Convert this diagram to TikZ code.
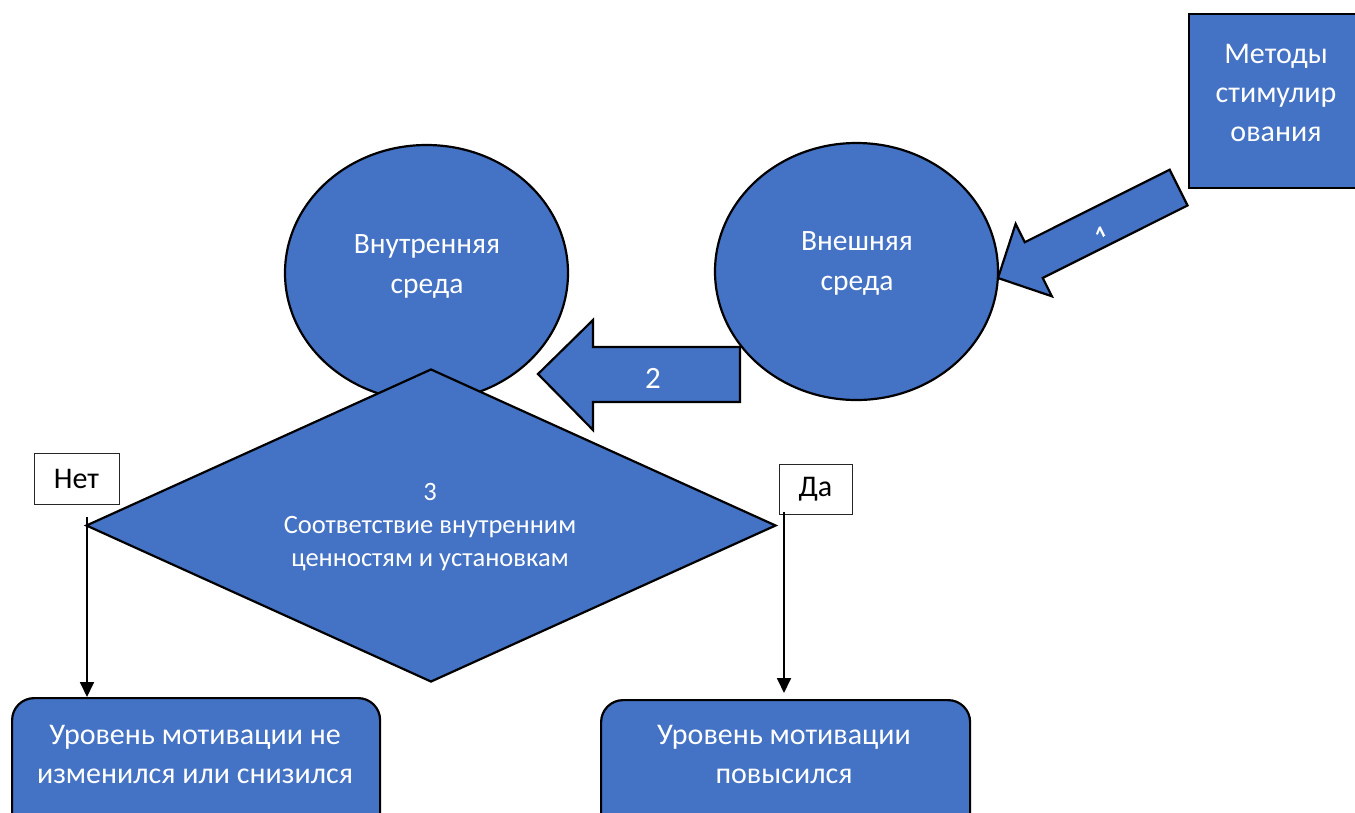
\documentclass[tikz,border=0pt]{standalone}
\usepackage{fontspec}
\setmainfont{Carlito}
\usetikzlibrary{shapes.geometric,arrows.meta}
\definecolor{fillblue}{HTML}{4472C4}
\begin{document}
\begin{tikzpicture}[x=1pt,y=-1pt,
  shapebox/.style={draw=black,line width=2.2pt,fill=fillblue},
  wtext/.style={text=white,align=center,inner sep=0pt},
  lbl/.style={draw=black!85,line width=1pt,fill=white,inner sep=0pt,text=black},
  conn/.style={draw=black,line width=1.8pt,-{Triangle[width=14pt,length=15pt]}}]
\useasboundingbox (0,0) rectangle (1355,812);
\clip (0,0) rectangle (1355,812);

% Methods box
\node[shapebox,rectangle,anchor=north west,minimum width=176,minimum height=174,inner sep=0] (met) at (1188,13) {};
\node[wtext,font=\fontsize{30}{39}\selectfont] (mettxt) at (1276,93) {Методы\\стимулир\\ования};

% Block arrow 1
\begin{scope}[shift={(998,278)},rotate=26.6]
  \draw[shapebox] (0,0) -- (40,-40.5) -- (40,-20) -- (202,-20) -- (202,20) -- (40,20) -- (40,40.5) -- cycle;
  \begin{scope}
    \clip (98,-3) rectangle (128,9.5);
    \node[transform shape,text=white,inner sep=0,anchor=north,font=\fontsize{30}{30}\selectfont] (one) at (112.7,0) {1};
  \end{scope}
\end{scope}

% Ellipses
\node[shapebox,ellipse,minimum width=283,minimum height=257,inner sep=0] (outer) at (856.5,271.5) {};
\node[wtext,font=\fontsize{29.5}{40}\selectfont] (outertxt) at (857,263) {Внешняя\\среда};
\node[shapebox,ellipse,minimum width=283,minimum height=256,inner sep=0] (inner) at (426.5,273) {};
\node[wtext,font=\fontsize{29.5}{40}\selectfont] (innertxt) at (427,266) {Внутренняя\\среда};

% Block arrow 2
\draw[shapebox] (538,374) -- (593,320) -- (593,347) -- (740,347) -- (740,402) -- (593,402) -- (593,430) -- cycle;
\node[wtext,font=\fontsize{31}{31}\selectfont] (two) at (653,378) {2};

% Decision diamond
\node[shapebox,diamond,minimum width=690,minimum height=313,inner sep=0] (dec) at (431,525.5) {};
\node[wtext,font=\fontsize{26.5}{33}\selectfont] (dectxt) at (430,527) {3\\Соответствие внутренним\\ценностям и установкам};

% Labels
\node[lbl,minimum width=85,minimum height=51,font=\fontsize{30}{30}\selectfont] (net) at (76.5,478.5) {Нет};
\node[lbl,minimum width=73,minimum height=50,font=\fontsize{30}{30}\selectfont] (da) at (815.5,489) {Да};

% Result boxes
\node[shapebox,rounded corners=22,anchor=north west,minimum width=368,minimum height=140,inner sep=0] (no) at (11,697) {};
\node[wtext,font=\fontsize{30}{39}\selectfont] (notxt) at (195,754) {Уровень мотивации не\\изменился или снизился};
\node[shapebox,rounded corners=22,anchor=north west,minimum width=369,minimum height=140,inner sep=0] (yes) at (600,699) {};
\node[wtext,font=\fontsize{30}{39}\selectfont] (yestxt) at (784,754) {Уровень мотивации\\повысился};

% Connectors
\coordinate (nstart) at (87,517);
\coordinate (ystart) at (784,512);
\draw[conn] (nstart) -- (nstart |- no.north);
\draw[conn,shorten >=6pt] (ystart) -- (ystart |- yes.north);
\end{tikzpicture}
\end{document}
